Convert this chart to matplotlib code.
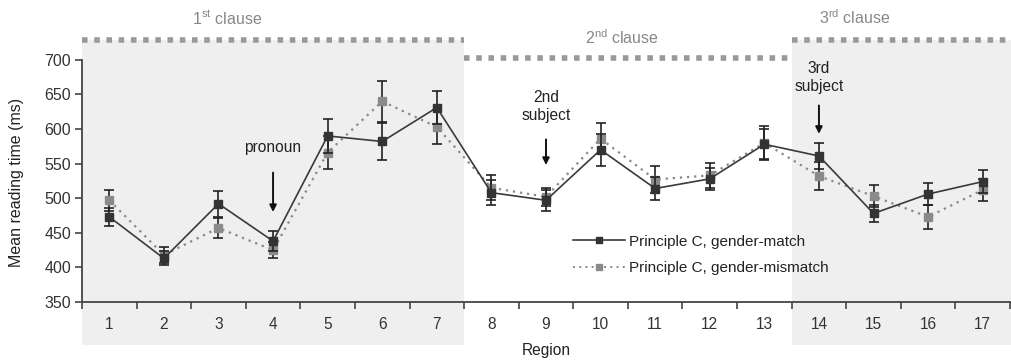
import matplotlib
matplotlib.use("Agg")
import matplotlib.pyplot as plt
from matplotlib.lines import Line2D
import numpy as np

plt.rcParams['font.family'] = ['Liberation Sans', 'DejaVu Sans']

# data
regions = list(range(1, 18))
match = [473, 413, 492, 438, 590, 582, 631, 508, 497, 570, 514, 528, 578, 561, 478, 506, 524]
match_err = [13, 10, 19, 15, 25, 27, 24, 18, 15, 23, 17, 16, 22, 19, 12, 16, 17]
mismatch = [497, 418, 457, 425, 566, 640, 603, 515, 502, 586, 527, 533, 580, 532, 503, 473, 512]
mismatch_err = [15, 12, 14, 11, 24, 30, 25, 18, 13, 22, 19, 18, 25, 20, 16, 17, 16]

clause_labels = ["1$^{\\mathregular{st}}$ clause", "2$^{\\mathregular{nd}}$ clause", "3$^{\\mathregular{rd}}$ clause"]
clause_spans = [(0.5, 7.5), (7.5, 13.5), (13.5, 17.5)]
clause_shaded = [True, False, True]

notes = ["pronoun", "2nd\nsubject", "3rd\nsubject"]
note_regions = [4, 9, 14]

series_names = ['Principle C, gender-match', 'Principle C, gender-mismatch']

fig = plt.figure(figsize=(10.12, 3.61), dpi=100)
ax = fig.add_axes([82/1012, 59/361, 928/1012, 292/361])

ax.set_xlim(0.5, 17.5)
ax.set_ylim(350, 772)

# shaded clause backgrounds + dotted bars on top
for (x0, x1), lab, shaded in zip(clause_spans, clause_labels, clause_shaded):
    top = 729 if shaded else 703
    if shaded:
        ax.fill_between([x0, x1 + (0.05 if x1 == 17.5 else 0)], 288, top, color='#efefef',
                        clip_on=False, zorder=0, lw=0)
    ax.plot([x0, x1], [top, top], color='#999999', lw=4.0,
            linestyle=(0, (1.0, 1.2)), solid_capstyle='butt', dash_capstyle='butt', zorder=1)

ax.text(3.15, 761, clause_labels[0], ha='center', va='center', color='#888888', fontsize=11.5)
ax.text(10.4, 732, clause_labels[1], ha='center', va='center', color='#888888', fontsize=11.5)
ax.text(14.65, 761, clause_labels[2], ha='center', va='center', color='#888888', fontsize=11.5)

# series
ax.errorbar(regions, match, yerr=match_err, color='#3a3a3a', lw=1.2, marker='s', ms=6,
            mfc='#333333', mec='#333333', ecolor='#222222', elinewidth=1.2, capsize=3.6,
            capthick=1.2, zorder=4)
ax.errorbar(regions, mismatch, yerr=mismatch_err, color='#888888', lw=1.6, ls=(0, (1, 2.2)),
            marker='s', ms=6, mfc='#8a8a8a', mec='#8a8a8a', ecolor='#222222', elinewidth=1.2,
            capsize=3.6, capthick=1.2, zorder=3)

# annotations
ax.text(note_regions[0], 574, notes[0], ha='center', va='center', fontsize=11.2, color='#222222')
ax.annotate("", xy=(note_regions[0], 476), xytext=(note_regions[0], 541),
            arrowprops=dict(arrowstyle='-|>', color='#111111', lw=1.4, mutation_scale=10))
ax.text(note_regions[1], 632, notes[1], ha='center', va='center', fontsize=11.2, color='#222222',
        linespacing=1.25)
ax.annotate("", xy=(note_regions[1], 544), xytext=(note_regions[1], 589),
            arrowprops=dict(arrowstyle='-|>', color='#111111', lw=1.4, mutation_scale=10))
ax.text(note_regions[2], 674, notes[2], ha='center', va='center', fontsize=11.2, color='#222222',
        linespacing=1.25)
ax.annotate("", xy=(note_regions[2], 589), xytext=(note_regions[2], 638),
            arrowprops=dict(arrowstyle='-|>', color='#111111', lw=1.4, mutation_scale=10))

# axes styling
for s in ['top', 'right']:
    ax.spines[s].set_visible(False)
ax.spines['left'].set_bounds(350, 700)
ax.spines['left'].set_color('#444444')
ax.spines['bottom'].set_color('#444444')
ax.spines['left'].set_linewidth(1.3)
ax.spines['bottom'].set_linewidth(1.3)

ax.set_yticks(np.arange(350, 701, 50))
ax.set_xticks(np.arange(0.5, 17.6, 1))
ax.set_xticklabels([])
ax.set_xticks(regions, minor=True)
ax.set_xticklabels([str(r) for r in regions], minor=True)
ax.tick_params(axis='x', which='minor', length=0, pad=11, labelsize=11.2, labelcolor='#333333')
ax.tick_params(axis='x', which='major', length=5, width=1.2, color='#444444')
ax.tick_params(axis='y', length=5, width=1.2, color='#444444', labelsize=11.5, labelcolor='#333333',
               pad=3)

ax.set_ylabel("Mean reading time (ms)", fontsize=11.5, color='#222222')
ax.yaxis.set_label_coords(-0.062, 0.41)
ax.set_xlabel("Region", fontsize=11.2, color='#222222', labelpad=8)

handles = [
    Line2D([], [], color='#3a3a3a', lw=1.2, marker='s', ms=5, mfc='#333333', mec='#333333'),
    Line2D([], [], color='#888888', lw=1.4, ls=(0, (1, 2.2)), marker='s', ms=5,
           mfc='#8a8a8a', mec='#8a8a8a'),
]
ax.legend(handles, series_names, loc='center left', bbox_to_anchor=(573/1012, 1 - 255/361),
          bbox_transform=fig.transFigure, frameon=False, fontsize=11, handlelength=3.4,
          handletextpad=0.25, labelspacing=0.85, borderpad=0, borderaxespad=0)
for t in ax.get_legend().get_texts():
    t.set_color('#222222')

fig.savefig("out.png", dpi=100)
